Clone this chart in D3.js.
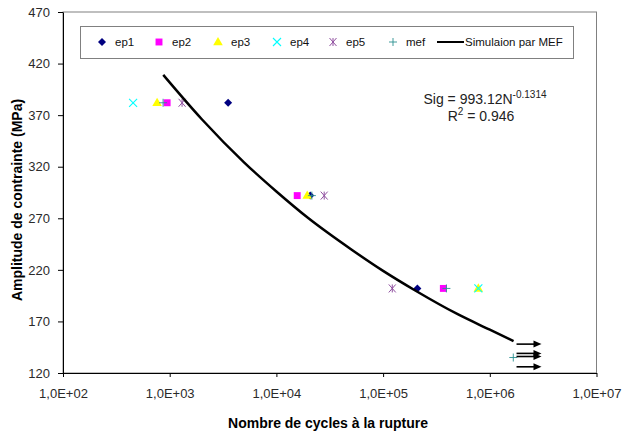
<!DOCTYPE html>
<html>
<head>
<meta charset="utf-8">
<script src="https://cdn.jsdelivr.net/npm/d3@7"></script>
<style>
  body { margin: 0; background: #fff; }
  text { font-family: "Liberation Sans", Arial, sans-serif; }
</style>
</head>
<body>
<div id="chart"></div>
<script>
const WIDTH = 622;
const HEIGHT = 436;
const MARGIN = { top: 12, left: 63, right: 26, bottom: 63 };

// tick labels
const xTicks = [1e2, 1e3, 1e4, 1e5, 1e6, 1e7];
const yTicks = [120, 170, 220, 270, 320, 370, 420, 470];

// essais [N, amplitude MPa]
const ep1 = [[3530, 382], [20750, 292], [209500, 202]];
const ep2 = [[946, 382], [15670, 292], [367000, 202]];
const ep3 = [[762, 382], [19450, 292], [781000, 202]];
const ep4 = [[454, 382], [781000, 202]];
const ep5 = [[1306, 382], [28050, 292], [121900, 202]];
const mef = [[867, 382], [21500, 292], [392000, 202], [1660000, 135]];

// courbe simulation
const simul = [[870, 409], [2000, 366], [5000, 324], [10000, 296], [20000, 270],
  [50000, 240], [100000, 219], [200000, 200], [500000, 177], [1000000, 162], [1670000, 151]];

// essais non rompus (flèches)
const runoutStress = [148, 139, 136, 126];
const runoutFrom = 1780000;
const runoutTo = 3050000;

const svg = d3.select("#chart").append("svg")
  .attr("width", WIDTH)
  .attr("height", HEIGHT);

const x = d3.scaleLog()
  .domain([1e2, 1e7])
  .range([MARGIN.left, WIDTH - MARGIN.right + 0.5]);

const y = d3.scaleLinear()
  .domain([120, 470])
  .range([HEIGHT - MARGIN.bottom, MARGIN.top]);

// cadre de la zone de tracé
svg.append("rect")
  .attr("x", x(1e2))
  .attr("y", y(470))
  .attr("width", x(1e7) - x(1e2))
  .attr("height", y(120) - y(470))
  .attr("fill", "none")
  .attr("stroke", "#808080")
  .attr("stroke-width", 1);

const xAxis = svg.append("g")
  .attr("transform", `translate(0, ${y(120)})`)
  .call(d3.axisBottom(x)
    .tickValues(xTicks)
    .tickFormat(d => "1,0E+0" + Math.round(Math.log10(d)))
    .tickSize(4)
    .tickSizeOuter(0)
    .tickPadding(12));

const yAxis = svg.append("g")
  .attr("transform", `translate(${x(1e2)}, 0)`)
  .call(d3.axisLeft(y)
    .tickValues(yTicks)
    .tickFormat(d3.format("d"))
    .tickSize(5)
    .tickSizeOuter(0)
    .tickPadding(8));

[xAxis, yAxis].forEach(a => {
  a.select(".domain").attr("stroke", "#000");
  a.selectAll(".tick line").attr("stroke", "#000");
  a.selectAll("text")
    .attr("font-size", 13)
    .attr("fill", "#2a2a2a")
    .attr("font-family", "'Liberation Sans', Arial, sans-serif");
});

// titres des axes
svg.append("text")
  .attr("x", 328)
  .attr("y", 428)
  .attr("text-anchor", "middle")
  .attr("font-size", 14)
  .attr("font-weight", "bold")
  .text("Nombre de cycles à la rupture");

svg.append("text")
  .attr("transform", "translate(22, 200) rotate(-90)")
  .attr("text-anchor", "middle")
  .attr("font-size", 14)
  .attr("font-weight", "bold")
  .text("Amplitude de contrainte (MPa)");

// marqueurs
const square = d3.symbol().type(d3.symbolSquare).size(48);
const triangle = d3.symbol().type(d3.symbolTriangle).size(40);

function drawMarker(g, kind, cx, cy) {
  if (kind === "ep1") {
    g.append("path")
      .attr("d", `M${cx},${cy - 4}L${cx + 4},${cy}L${cx},${cy + 4}L${cx - 4},${cy}Z`)
      .attr("fill", "#000080");
  } else if (kind === "ep2") {
    g.append("path").attr("d", square()).attr("transform", `translate(${cx},${cy})`).attr("fill", "#ff00ff");
  } else if (kind === "ep3") {
    g.append("path").attr("d", triangle()).attr("transform", `translate(${cx},${cy + 0.5})`).attr("fill", "#ffff00");
  } else if (kind === "ep4") {
    g.append("path")
      .attr("d", `M${cx - 4},${cy - 4}L${cx + 4},${cy + 4}M${cx - 4},${cy + 4}L${cx + 4},${cy - 4}`)
      .attr("stroke", "#00ffff").attr("stroke-width", 1.1);
  } else if (kind === "ep5") {
    g.append("path")
      .attr("d", `M${cx - 3.5},${cy - 4}L${cx + 3.5},${cy + 4}M${cx - 3.5},${cy + 4}L${cx + 3.5},${cy - 4}M${cx},${cy - 4}L${cx},${cy + 4}`)
      .attr("stroke", "#9050a0").attr("stroke-width", 1);
  } else if (kind === "mef") {
    g.append("path")
      .attr("d", `M${cx - 4},${cy}L${cx + 4},${cy}M${cx},${cy - 4}L${cx},${cy + 4}`)
      .attr("stroke", "#2a9090").attr("stroke-width", 0.9);
  }
}

const series = [
  { name: "ep1", data: ep1 },
  { name: "ep2", data: ep2 },
  { name: "ep3", data: ep3 },
  { name: "ep4", data: ep4 },
  { name: "ep5", data: ep5 },
  { name: "mef", data: mef },
];

const marks = svg.append("g");
series.forEach(s => {
  s.data.forEach(d => drawMarker(marks, s.name, x(d[0]), y(d[1])));
});

// courbe MEF
const line = d3.line()
  .x(d => x(d[0]))
  .y(d => y(d[1]))
  .curve(d3.curveMonotoneX);

svg.append("path")
  .datum(simul)
  .attr("d", line)
  .attr("fill", "none")
  .attr("stroke", "#000")
  .attr("stroke-width", 2.5);

// flèches (non rompus)
const arrows = svg.append("g");
runoutStress.forEach(s => {
  const x0 = x(runoutFrom), x1 = x(runoutTo), yy = y(s);
  arrows.append("line")
    .attr("x1", x0).attr("x2", x1 - 6)
    .attr("y1", yy).attr("y2", yy)
    .attr("stroke", "#000").attr("stroke-width", 1.6);
  arrows.append("path")
    .attr("d", `M${x1 - 8},${yy - 3.5}L${x1},${yy}L${x1 - 8},${yy + 3.5}Z`)
    .attr("fill", "#000");
});

// équation
const eq = svg.append("text")
  .attr("x", 485)
  .attr("y", 104)
  .attr("text-anchor", "middle")
  .attr("font-size", 14)
  .attr("fill", "#222");
eq.append("tspan").text("Sig = 993.12N");
eq.append("tspan").attr("dy", -6).attr("font-size", 10).text("-0.1314");

const r2 = svg.append("text")
  .attr("x", 481)
  .attr("y", 121)
  .attr("text-anchor", "middle")
  .attr("font-size", 14)
  .attr("fill", "#222");
r2.append("tspan").text("R");
r2.append("tspan").attr("dy", -6).attr("font-size", 10).text("2");
r2.append("tspan").attr("dy", 6).text(" = 0.946");

// légende
const legend = svg.append("g");
legend.append("rect")
  .attr("x", 80.5).attr("y", 26.5)
  .attr("width", 493).attr("height", 32)
  .attr("fill", "#fff")
  .attr("stroke", "#808080");

const legX = [102, 159, 218, 277, 333, 393];
series.forEach((s, i) => {
  drawMarker(legend, s.name, legX[i], 42);
  legend.append("text")
    .attr("x", legX[i] + 13)
    .attr("y", 46)
    .attr("font-size", 11.5)
    .attr("fill", "#111")
    .text(s.name);
});
legend.append("line")
  .attr("x1", 437).attr("x2", 464)
  .attr("y1", 42).attr("y2", 42)
  .attr("stroke", "#000").attr("stroke-width", 2);
legend.append("text")
  .attr("x", 465)
  .attr("y", 46)
  .attr("font-size", 11.5)
  .attr("fill", "#111")
  .text("Simulaion par MEF");
</script>
</body>
</html>
